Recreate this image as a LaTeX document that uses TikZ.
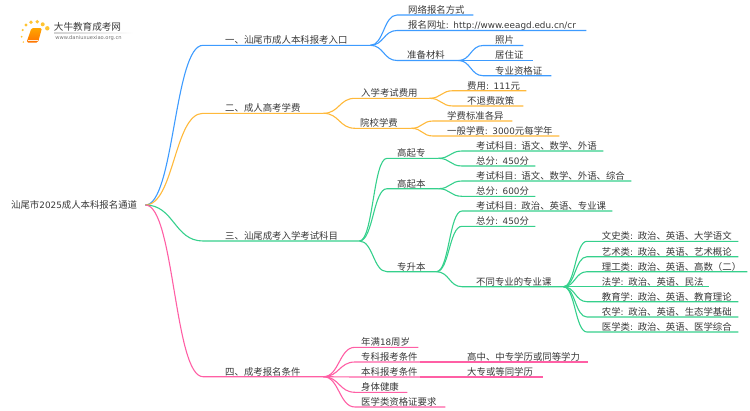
\documentclass[tikz,border=0pt]{standalone}
\usepackage{fontspec}
\setmainfont{Noto Sans CJK SC}
\newfontfamily\latfont[Scale=0.94]{DejaVu Sans}
\newcommand{\lat}[1]{{\latfont #1}}
\usetikzlibrary{calc}
\definecolor{lineblue}{HTML}{3D9BFF}
\definecolor{lineorange}{HTML}{FFB93B}
\definecolor{linegreen}{HTML}{35D08C}
\definecolor{linepink}{HTML}{FF5FA5}

\begin{document}
\begin{tikzpicture}[x=1pt,y=-1pt,
    topic/.style={anchor=south west,inner sep=0pt,text height=9pt,text depth=1.5pt,align=left,
      text=black!78,font=\fontsize{9.4}{11}\selectfont,execute at begin node={\hspace*{#1pt}}},
    bluel/.style={draw=lineblue,line width=1.1pt},
    orangel/.style={draw=lineorange,line width=1.1pt},
    greenl/.style={draw=linegreen,line width=1.1pt},
    pinkl/.style={draw=linepink,line width=1.1pt},
    kid/.style={to path={let \p1=(\tikztostart),\p2=(\tikztotarget),\n1={(\x2-\x1)/2} in
      .. controls ([xshift=\n1]\tikztostart) and ([xshift=-\n1]\tikztotarget) .. (\tikztotarget)}}]
  \useasboundingbox (0,0) rectangle (750,410);

  % logo
  \fill[lineorange!85!yellow] (22.7,30) circle (1.2) (26,25) circle (1.6) (31,22.3) circle (1.9)
    (37.3,21.7) circle (1.9) (42.7,24.3) circle (2) (47.3,28.3) circle (2.2)
    (21.7,36.7) circle (1) (23.3,42) circle (.8);
  \shade[top color=orange!70!yellow,bottom color=orange!90!red,rounded corners=1.5pt]
    (31.5,28) -- (42,28) -- (38,42.5) -- (26.5,42.5) -- cycle;
  \draw[white!85!orange,line width=.5pt] (28,40) -- (37.5,40);
  \shade[left color=black!18,right color=white] (54,32.8) rectangle (133,33.3);
  \path (87.5,27) node[inner sep=0pt,text=black!78,font=\fontsize{9.6}{11}\selectfont] (brand) {大牛教育成考网}
  (88.5,38.5) node[inner sep=0pt,text=black!55,font=\latfont\fontsize{5.5}{6}\selectfont] (site) {www.daniuxuexiao.org.cn};

  \path
  (11,205) node[topic=0,anchor=west,text width=134pt] (root) {汕尾市\lat{2025}成人本科报名通道}

  (203,45.3) node[topic=22,text width=167pt] (entry) {一、汕尾市成人本科报考入口}
  (397,15) node[topic=11,text width=76pt] (online) {网络报名方式}
  (397,30.5) node[topic=11,text width=189pt] (site2) {报名网址\lat{: http://www.eeagd.edu.cn/cr}}
  (397,60.5) node[topic=10,text width=61pt] (prep) {准备材料}
  (483,45.5) node[topic=12,text width=40pt] (photo) {照片}
  (483,60.5) node[topic=12,text width=50pt] (resid) {居住证}
  (483,75.7) node[topic=12,text width=68pt] (cert) {专业资格证}

  (203,113.3) node[topic=22,text width=120pt] (fee) {二、成人高考学费}
  (355,98.3) node[topic=6,text width=74pt] (examfee) {入学考试费用}
  (355,128.3) node[topic=5,text width=56pt] (school) {院校学费}
  (453,90.7) node[topic=14,text width=73pt] (cost) {费用\lat{: 111}元}
  (453,106) node[topic=14,text width=70pt] (norefund) {不退费政策}
  (433,121) node[topic=14,text width=79pt] (differ) {学费标准各异}
  (433,136) node[topic=14,text width=126pt] (usual) {一般学费\lat{: 3000}元每学年}

  (203,241) node[topic=22,text width=156pt] (subj) {三、汕尾成考入学考试科目}
  (387,158.3) node[topic=10,text width=51pt] (gqz) {高起专}
  (387,188.7) node[topic=10,text width=51pt] (gqb) {高起本}
  (387,271.7) node[topic=10,text width=49pt] (zsb) {专升本}
  (462,151) node[topic=14,text width=141pt] (gqzs) {考试科目\lat{:} 语文、数学、外语}
  (462,166) node[topic=14,text width=73pt] (gqzt) {总分\lat{: 450}分}
  (462,181) node[topic=14,text width=169pt] (gqbs) {考试科目\lat{:} 语文、数学、外语、综合}
  (462,196.3) node[topic=14,text width=73pt] (gqbt) {总分\lat{: 600}分}
  (462,211) node[topic=14,text width=150pt] (zsbs) {考试科目\lat{:} 政治、英语、专业课}
  (462,226.3) node[topic=14,text width=73pt] (zsbt) {总分\lat{: 450}分}
  (462,286.7) node[topic=14,text width=101pt] (major) {不同专业的专业课}
  (587,241.3) node[topic=14.7,text width=151pt] (wen) {文史类\lat{:} 政治、英语、大学语文}
  (587,256.7) node[topic=14.7,text width=151pt] (art) {艺术类\lat{:} 政治、英语、艺术概论}
  (587,271.7) node[topic=14.7,text width=160pt] (li) {理工类\lat{:} 政治、英语、高数（二）}
  (587,286.7) node[topic=14.7,text width=122pt] (law) {法学\lat{:} 政治、英语、民法}
  (587,301.7) node[topic=14.7,text width=151pt] (edu) {教育学\lat{:} 政治、英语、教育理论}
  (587,317) node[topic=14.7,text width=151pt] (agri) {农学\lat{:} 政治、英语、生态学基础}
  (587,332) node[topic=14.7,text width=151pt] (med) {医学类\lat{:} 政治、英语、医学综合}

  (203,376.7) node[topic=22,text width=120pt] (cond) {四、成考报名条件}
  (355,347.3) node[topic=6,text width=63pt] (age) {年满\lat{18}周岁}
  (355,362) node[topic=6,text width=65pt] (zk) {专科报考条件}
  (355,377) node[topic=6,text width=65pt] (bk) {本科报考条件}
  (355,392.3) node[topic=6,text width=52pt] (health) {身体健康}
  (355,407) node[topic=6,text width=90pt] (medcert) {医学类资格证要求}
  (455,362) node[topic=12,text width=133pt] (zkreq) {高中、中专学历或同等学力}
  (455,377) node[topic=12,text width=88pt] (bkreq) {大专或等同学历}
  ;

  \draw[bluel] (root.east) to[kid] (entry.south west) -- (entry.south east);
  \draw[bluel] (entry.south east) to[kid] (online.south west) -- (online.south east);
  \draw[bluel] (entry.south east) to[kid] (site2.south west) -- (site2.south east);
  \draw[bluel] (entry.south east) to[kid] (prep.south west) -- (prep.south east);
  \draw[bluel] (prep.south east) to[kid] (photo.south west) -- (photo.south east);
  \draw[bluel] (prep.south east) to[kid] (resid.south west) -- (resid.south east);
  \draw[bluel] (prep.south east) to[kid] (cert.south west) -- (cert.south east);

  \draw[orangel] (root.east) to[kid] (fee.south west) -- (fee.south east);
  \draw[orangel] (fee.south east) to[kid] (examfee.south west) -- (examfee.south east);
  \draw[orangel] (fee.south east) to[kid] (school.south west) -- (school.south east);
  \draw[orangel] (examfee.south east) to[kid] (cost.south west) -- (cost.south east);
  \draw[orangel] (examfee.south east) to[kid] (norefund.south west) -- (norefund.south east);
  \draw[orangel] (school.south east) to[kid] (differ.south west) -- (differ.south east);
  \draw[orangel] (school.south east) to[kid] (usual.south west) -- (usual.south east);

  \draw[greenl] (root.east) to[kid] (subj.south west) -- (subj.south east);
  \draw[greenl] (subj.south east) to[kid] (gqz.south west) -- (gqz.south east);
  \draw[greenl] (subj.south east) to[kid] (gqb.south west) -- (gqb.south east);
  \draw[greenl] (subj.south east) to[kid] (zsb.south west) -- (zsb.south east);
  \draw[greenl] (gqz.south east) to[kid] (gqzs.south west) -- (gqzs.south east);
  \draw[greenl] (gqz.south east) to[kid] (gqzt.south west) -- (gqzt.south east);
  \draw[greenl] (gqb.south east) to[kid] (gqbs.south west) -- (gqbs.south east);
  \draw[greenl] (gqb.south east) to[kid] (gqbt.south west) -- (gqbt.south east);
  \draw[greenl] (zsb.south east) to[kid] (zsbs.south west) -- (zsbs.south east);
  \draw[greenl] (zsb.south east) to[kid] (zsbt.south west) -- (zsbt.south east);
  \draw[greenl] (zsb.south east) to[kid] (major.south west) -- (major.south east);
  \foreach \m in {wen,art,li,law,edu,agri,med}
    \draw[greenl] (major.south east) to[kid] (\m.south west) -- (\m.south east);

  \draw[pinkl] (root.east) to[kid] (cond.south west) -- (cond.south east);
  \foreach \m in {age,zk,bk,health,medcert}
    \draw[pinkl] (cond.south east) to[kid] (\m.south west) -- (\m.south east);
  \draw[pinkl] (zk.south east) -- (zkreq.south west) -- (zkreq.south east);
  \draw[pinkl] (bk.south east) -- (bkreq.south west) -- (bkreq.south east);
\end{tikzpicture}
\end{document}
